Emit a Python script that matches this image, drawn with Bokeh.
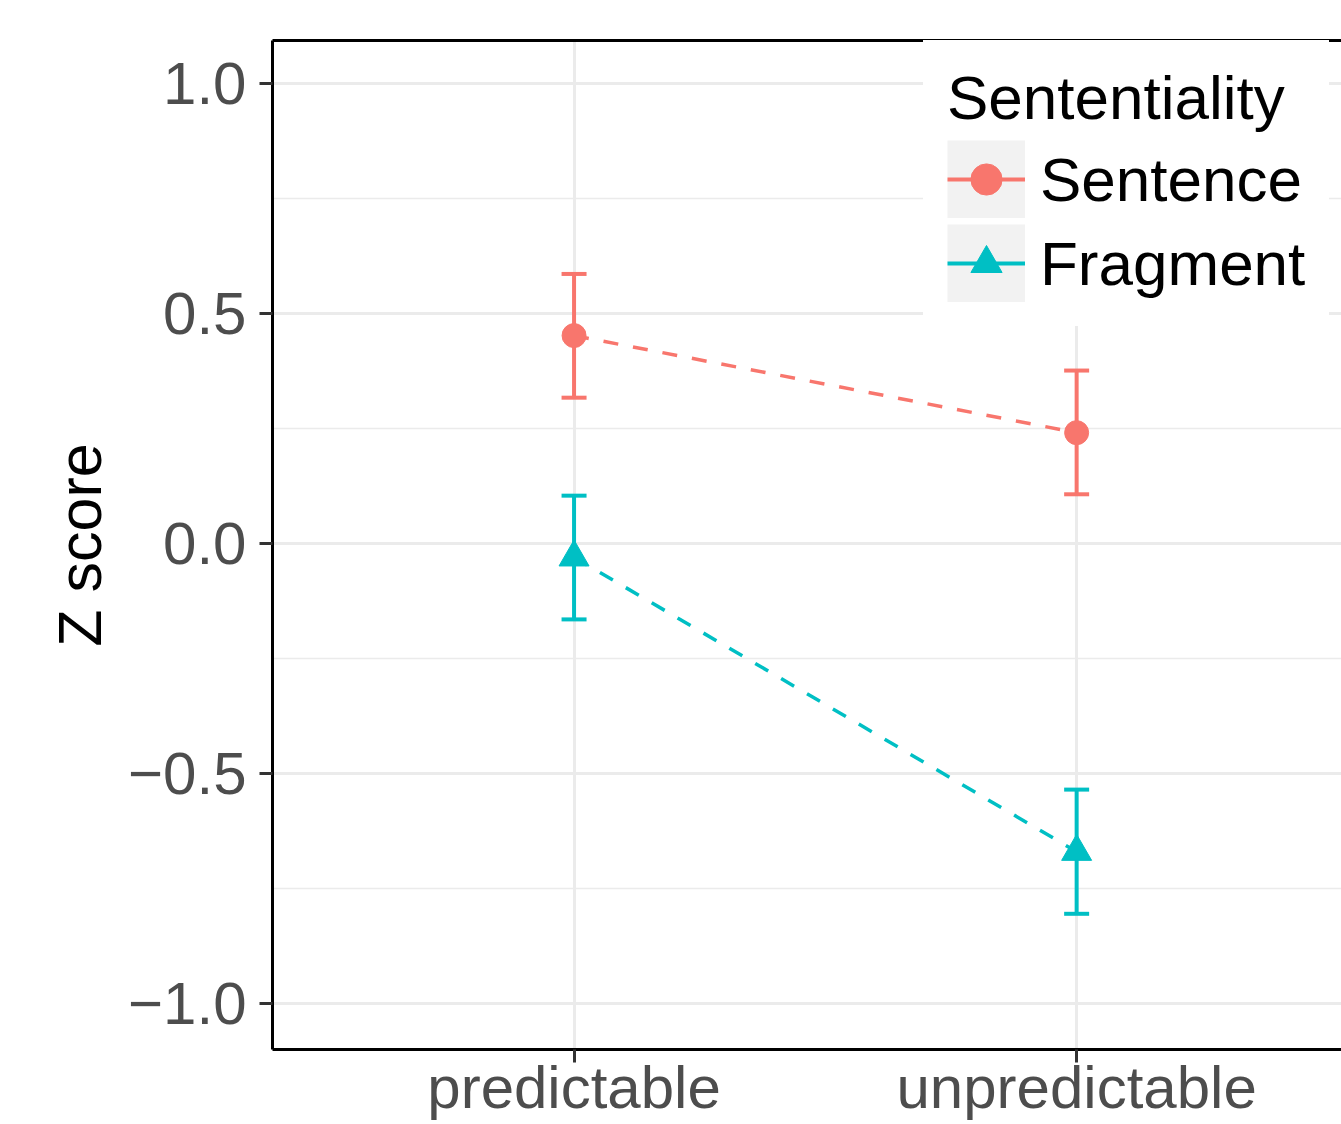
from bokeh.plotting import figure
from bokeh.models import (ColumnDataSource, Range1d, FixedTicker, LinearAxis,
                          Whisker, TeeHead, Legend, LegendItem)
from bokeh.embed import file_html
from bokeh.resources import INLINE

# ---------------- data ----------------
conditions = ["predictable", "unpredictable"]
groups = ["Sentence", "Fragment"]
sentence_mean = [0.452, 0.241]
sentence_lower = [0.317, 0.107]
sentence_upper = [0.586, 0.376]
fragment_mean = [-0.030, -0.670]
fragment_lower = [-0.165, -0.805]
fragment_upper = [0.104, -0.535]
y_ticks = [-1.0, -0.5, 0.0, 0.5, 1.0]
y_tick_labels = ["\u22121.0", "\u22120.5", "0.0", "0.5", "1.0"]
y_minor_ticks = [-0.75, -0.25, 0.25, 0.75]
colors = ["#F8766D", "#00BFC4"]
markers = ["circle", "triangle"]
marker_sizes = [24, 30]

FONT = "Liberation Sans"
KEY = 78
x_pos = [i + 1 for i in range(len(conditions))]

p = figure(width=1341, height=1124, output_backend="svg", toolbar_location=None,
           x_range=Range1d(0.4, 2.527), y_range=Range1d(-1.1, 1.0935),
           min_border_left=272, min_border_top=40, min_border_right=0,
           min_border_bottom=75)
p.outline_line_color = None
p.background_fill_color = "white"
p.border_fill_color = "white"

# axes
p.xaxis.ticker = FixedTicker(ticks=x_pos)
p.xaxis.major_label_overrides = {x: c for x, c in zip(x_pos, conditions)}
p.yaxis.ticker = FixedTicker(ticks=y_ticks, minor_ticks=y_minor_ticks)
p.yaxis.major_label_overrides = {t: l for t, l in zip(y_ticks, y_tick_labels)}
for ax in (p.xaxis, p.yaxis):
    ax.axis_line_color = "black"
    ax.axis_line_width = 3
    ax.major_tick_line_color = "#333333"
    ax.major_tick_line_width = 3
    ax.major_tick_out = 13
    ax.major_tick_in = 0
    ax.minor_tick_line_color = None
    ax.major_label_text_font = FONT
    ax.major_label_text_font_size = "60px"
    ax.major_label_text_color = "#4D4D4D"
p.xaxis.major_label_standoff = -9
p.yaxis.major_label_standoff = 13
p.yaxis.axis_label = "Z score"
p.yaxis.axis_label_text_font = FONT
p.yaxis.axis_label_text_font_size = "61px"
p.yaxis.axis_label_text_font_style = "normal"
p.yaxis.axis_label_text_color = "black"
p.yaxis.axis_label_standoff = 11

top_axis = LinearAxis(ticker=FixedTicker(ticks=[]), axis_line_color="black",
                      axis_line_width=3, major_tick_line_color=None,
                      minor_tick_line_color=None, major_label_text_font_size="0px")
p.add_layout(top_axis, "above")

# grids
p.xgrid.grid_line_color = "#EBEBEB"
p.xgrid.grid_line_width = 3
p.ygrid.grid_line_color = "#EBEBEB"
p.ygrid.grid_line_width = 3
p.ygrid.minor_grid_line_color = "#EBEBEB"
p.ygrid.minor_grid_line_width = 1.5

# series
series = [
    (sentence_mean, sentence_lower, sentence_upper),
    (fragment_mean, fragment_lower, fragment_upper),
]
items = []
for (mean, lower, upper), name, col, mk, ms in zip(series, groups, colors, markers, marker_sizes):
    src = ColumnDataSource(dict(x=x_pos, y=mean, lower=lower, upper=upper))
    p.line("x", "y", source=src, line_color=col, line_width=3.5, line_dash="15 15")
    w = Whisker(base="x", lower="lower", upper="upper", source=src,
                line_color=col, line_width=4,
                upper_head=TeeHead(size=25, line_color=col, line_width=4),
                lower_head=TeeHead(size=25, line_color=col, line_width=4))
    p.add_layout(w)
    sc = p.scatter("x", "y", source=src, marker=mk, size=ms, fill_color=col, line_color=col)
    # legend-only helpers (single-point lines draw nothing in the plot):
    # a very wide grey line gives the key background square, a thin one the key line
    bg = p.line(x=x_pos[:1], y=mean[:1], line_color="#F2F2F2", line_width=KEY)
    ln = p.line(x=x_pos[:1], y=mean[:1], line_color=col, line_width=4)
    items.append(LegendItem(label=name, renderers=[bg, ln, sc]))

legend = Legend(items=items, title="Sententiality", location=(651, 723),
                glyph_width=KEY, glyph_height=KEY, label_standoff=15, spacing=6,
                padding=23, margin=0, title_standoff=7,
                label_text_font=FONT, label_text_font_size="62px", label_text_color="black",
                title_text_font=FONT, title_text_font_size="62px",
                title_text_font_style="normal", title_text_color="black",
                border_line_color="white", border_line_width=1,
                background_fill_color="white", background_fill_alpha=1.0)
p.add_layout(legend)

open("out.html", "w").write(file_html(p, INLINE))
